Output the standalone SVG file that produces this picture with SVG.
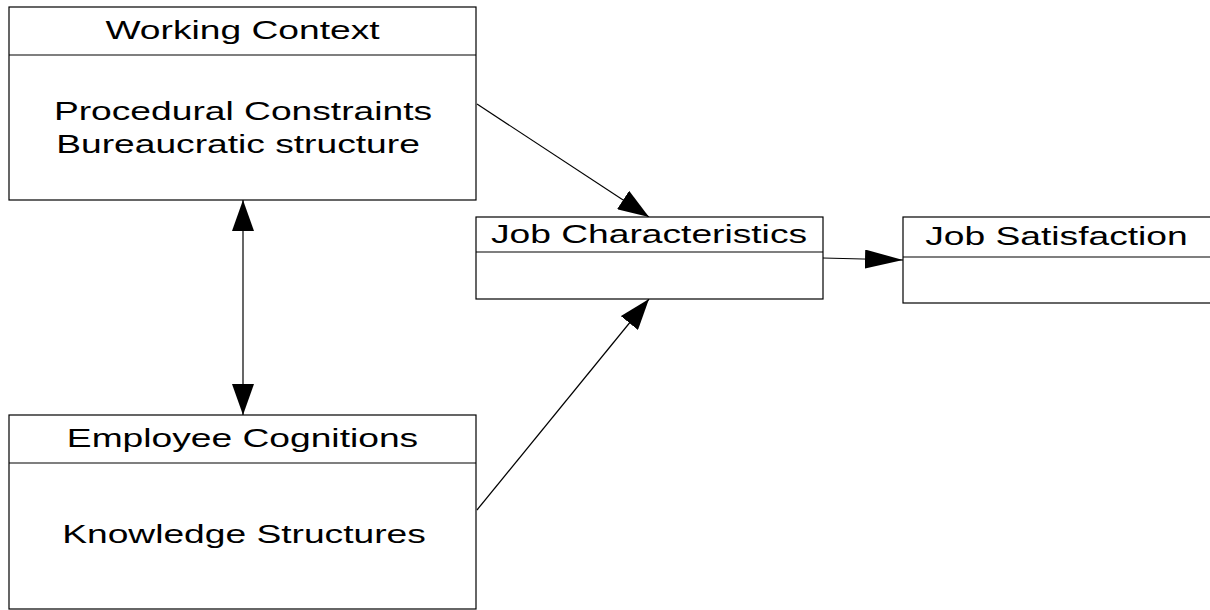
<svg xmlns="http://www.w3.org/2000/svg" width="1210" height="610" viewBox="0 0 1210 610">
<style>
.box{fill:#fff;stroke:#000;stroke-width:1.2}
.div{stroke:#000;stroke-width:1.2}
.lbl{font-family:"Liberation Sans",Arial,sans-serif;font-size:26px;fill:#000;text-anchor:middle}
.con{stroke:#000;stroke-width:1.2;fill:none}
</style>
<defs>
<marker id="ah" markerUnits="userSpaceOnUse" markerWidth="32" markerHeight="22" refX="31" refY="11" orient="auto-start-reverse">
<path d="M0,0 L31,11 L0,22 z" fill="#000"/>
</marker>
<marker id="ahl" markerUnits="userSpaceOnUse" markerWidth="39" markerHeight="19" refX="38" refY="9.5" orient="auto">
<path d="M0,0 L38,9.5 L0,19 z" fill="#000"/>
</marker>
</defs>
<g id="connectors">
<line class="con" x1="477" y1="104" x2="649" y2="217" marker-end="url(#ah)"/>
<line class="con" x1="477" y1="510" x2="649" y2="299" marker-end="url(#ah)"/>
<line class="con" x1="823" y1="258" x2="903" y2="260" marker-end="url(#ahl)"/>
<line class="con" x1="243" y1="200" x2="243" y2="415" marker-start="url(#ah)" marker-end="url(#ah)"/>
</g>
<g id="working-context">
<rect class="box" x="9" y="7" width="467" height="193"/>
<line class="div" x1="9" y1="55" x2="476" y2="55"/>
<text class="lbl" transform="translate(242.5,39) scale(1.43,1)">Working Context</text>
<text class="lbl" transform="translate(243,120) scale(1.43,1)">Procedural Constraints</text>
<text class="lbl" transform="translate(238,153) scale(1.43,1)">Bureaucratic structure</text>
</g>
<g id="employee-cognitions">
<rect class="box" x="9" y="415" width="467" height="194"/>
<line class="div" x1="9" y1="463" x2="476" y2="463"/>
<text class="lbl" transform="translate(242.5,447) scale(1.43,1)">Employee Cognitions</text>
<text class="lbl" transform="translate(244,543) scale(1.43,1)">Knowledge Structures</text>
</g>
<g id="job-characteristics">
<rect class="box" x="476" y="217" width="347" height="82"/>
<line class="div" x1="476" y1="252" x2="823" y2="252"/>
<text class="lbl" transform="translate(649,243) scale(1.43,1)">Job Characteristics</text>
</g>
<g id="job-satisfaction">
<rect class="box" x="903" y="217" width="330" height="86"/>
<line class="div" x1="903" y1="257" x2="1233" y2="257"/>
<text class="lbl" transform="translate(1056.5,245) scale(1.43,1)">Job Satisfaction</text>
</g>
</svg>
